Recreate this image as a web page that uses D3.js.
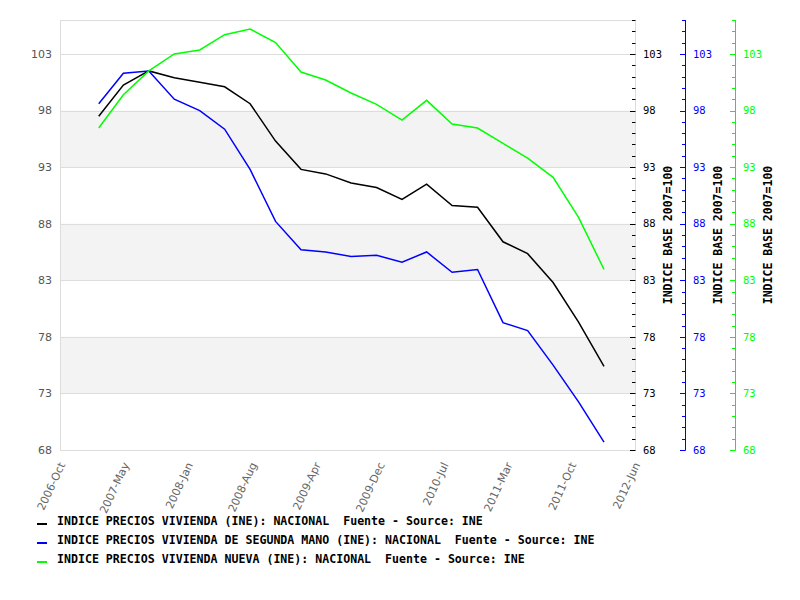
<!DOCTYPE html>
<html>
<head>
<meta charset="utf-8">
<script src="https://cdn.jsdelivr.net/npm/d3@7/dist/d3.min.js"></script>
<style>
  body { margin: 0; background: #fff; }
  .mono { font-family: "DejaVu Sans Mono", monospace; }
  .legend text { font-family: "DejaVu Sans Mono", monospace; font-weight: bold; font-size: 11.6px; white-space: pre; }
</style>
</head>
<body>
<div id="chart"></div>
<script>
// quarterly data, Q1 2007 .. Q1 2012
var quarters = ['2007-Q1','2007-Q2','2007-Q3','2007-Q4','2008-Q1','2008-Q2','2008-Q3','2008-Q4',
  '2009-Q1','2009-Q2','2009-Q3','2009-Q4','2010-Q1','2010-Q2','2010-Q3','2010-Q4',
  '2011-Q1','2011-Q2','2011-Q3','2011-Q4','2012-Q1'];
var general = [97.5, 100.25, 101.5, 100.9, 100.5, 100.1, 98.6, 95.3, 92.8, 92.4, 91.6,
  91.2, 90.15, 91.5, 89.6, 89.45, 86.4, 85.35, 82.8, 79.3, 75.4];
var segundaMano = [98.6, 101.3, 101.5, 99.0, 98.0, 96.35, 92.8, 88.2, 85.7, 85.5, 85.1,
  85.2, 84.6, 85.5, 83.7, 83.95, 79.25, 78.55, 75.5, 72.25, 68.7];
var nueva = [96.45, 99.4, 101.5, 103.0, 103.35, 104.7, 105.2, 104.0, 101.4, 100.7, 99.55,
  98.55, 97.15, 98.9, 96.8, 96.45, 95.1, 93.8, 92.1, 88.55, 83.95];
var tickLabels = ['2006-Oct','2007-May','2008-Jan','2008-Aug','2009-Apr','2009-Dec',
  '2010-Jul','2011-Mar','2011-Oct','2012-Jun'];
var yTicks = [68, 73, 78, 83, 88, 93, 98, 103];
var seriesNames = [
  'INDICE PRECIOS VIVIENDA (INE): NACIONAL  Fuente - Source: INE',
  'INDICE PRECIOS VIVIENDA DE SEGUNDA MANO (INE): NACIONAL  Fuente - Source: INE',
  'INDICE PRECIOS VIVIENDA NUEVA (INE): NACIONAL  Fuente - Source: INE'
];
var seriesColors = ['#000000', '#0000ff', '#00ff00'];
var axisTitle = 'INDICE BASE 2007=100';

var width = 800, height = 600;
var margin = { top: 20, left: 60 };
var w = 575, h = 430;

// quarter -> mid-quarter date
var dates = quarters.map(function (q) {
  var y = +q.slice(0, 4), n = +q.slice(6);
  return new Date(y, (n - 1) * 3 + 1, 15);
});

var svg = d3.select('#chart').append('svg')
  .attr('width', width).attr('height', height);
var g = svg.append('g')
  .attr('transform', 'translate(' + margin.left + ',' + margin.top + ')');

var x = d3.scaleTime()
  .domain([new Date(2006, 8, 28), new Date(2012, 5, 6)])
  .range([0, w]);
var xLab = d3.scalePoint().domain(tickLabels).range([0, w]);
var y = d3.scaleLinear().domain([68, 106]).range([h, 0]);

// alternating bands
var bands = [[93, 98], [83, 88], [73, 78]];
g.selectAll('.band').data(bands).enter().append('rect')
  .attr('x', 0).attr('width', w)
  .attr('y', function (d) { return y(d[1]); })
  .attr('height', function (d) { return y(d[0]) - y(d[1]); })
  .attr('fill', '#f3f3f3');

// grid
g.selectAll('.grid').data(yTicks).enter().append('line')
  .attr('x1', 0).attr('x2', w)
  .attr('y1', function (d) { return Math.round(y(d)) + 0.5; })
  .attr('y2', function (d) { return Math.round(y(d)) + 0.5; })
  .attr('stroke', '#dddddd');

g.append('rect').attr('x', 0.5).attr('y', 0.5).attr('width', w).attr('height', h)
  .attr('fill', 'none').attr('stroke', '#dddddd');

// left labels
g.selectAll('.ylab').data(yTicks).enter().append('text')
  .attr('x', -8).attr('y', function (d) { return y(d); })
  .attr('dy', '0.35em').attr('text-anchor', 'end')
  .style('font-family', 'DejaVu Sans, sans-serif').style('font-size', '11px')
  .attr('fill', '#555').text(function (d) { return d; });

// x labels
g.selectAll('.xlab').data(tickLabels).enter().append('text')
  .attr('transform', function (d) { return 'translate(' + (xLab(d) + 2) + ',' + (h + 13) + ') rotate(-65)'; })
  .attr('text-anchor', 'end').attr('dy', '0.35em')
  .style('font-family', 'DejaVu Sans, sans-serif').style('font-size', '11px')
  .attr('fill', '#666').text(function (d) { return d; });

// right axes
var minorTicks = d3.range(68, 107, 1);
seriesColors.forEach(function (c, i) {
  var ax = g.append('g').attr('transform', 'translate(' + (w + i * 50) + ',0)');
  if (i > 0) {
    ax.append('line').attr('x1', 0.5).attr('x2', 0.5).attr('y1', 0).attr('y2', h + 0.5)
      .attr('stroke', c);
  }
  ax.selectAll('.t').data(minorTicks).enter().append('line')
    .attr('x1', function (d) { return (d - 68) % 5 === 0 ? -5 : -3; })
    .attr('x2', 0.5)
    .attr('y1', function (d) { return Math.round(y(d)) + 0.5; })
    .attr('y2', function (d) { return Math.round(y(d)) + 0.5; })
    .attr('stroke', c);
  ax.selectAll('.l').data(yTicks).enter().append('text')
    .attr('class', 'mono')
    .attr('x', 8).attr('y', function (d) { return y(d); }).attr('dy', '0.35em')
    .style('font-size', '10.5px').attr('fill', c)
    .text(function (d) { return d; });
  ax.append('text')
    .attr('transform', 'translate(37,' + (h / 2) + ') rotate(-90)')
    .attr('text-anchor', 'middle')
    .style('font-family', 'DejaVu Sans Mono, monospace').style('font-weight', 'bold')
    .style('font-size', '11.5px').attr('fill', '#000')
    .text(axisTitle);
});

// lines
var line = d3.line()
  .x(function (d, i) { return x(dates[i]); })
  .y(function (d) { return y(d); });
[general, segundaMano, nueva].forEach(function (s, i) {
  g.append('path').datum(s)
    .attr('d', line)
    .attr('fill', 'none')
    .attr('stroke', seriesColors[i])
    .attr('stroke-width', 1.5);
});

// legend
var legend = svg.selectAll('.legend').data(seriesNames).enter().append('g')
  .attr('class', 'legend')
  .attr('transform', function (d, i) { return 'translate(37,' + (521 + i * 19) + ')'; });
legend.append('line')
  .attr('x1', 0).attr('x2', 10).attr('y1', 3).attr('y2', 3)
  .attr('stroke', function (d, i) { return seriesColors[i]; })
  .attr('stroke-width', 2);
legend.append('text')
  .attr('x', 20).attr('dy', '0.35em')
  .text(function (d) { return d; });
</script>
</body>
</html>
